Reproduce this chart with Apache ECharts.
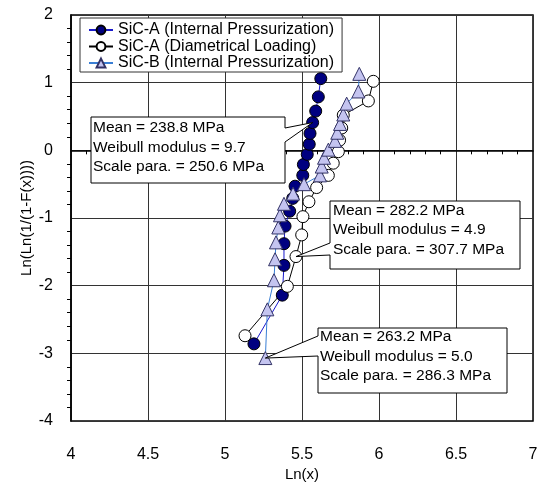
<!DOCTYPE html>
<html>
<head>
<meta charset="utf-8">
<script src="https://cdn.jsdelivr.net/npm/echarts@6/dist/echarts.min.js"></script>
<style>
  html, body { margin: 0; padding: 0; background: #fff; }
</style>
</head>
<body>
<div id="main" style="width: 544px; height: 490px"></div>
<script>
// SiC-A, internal pressurization (17 specimens)
const sicAPressX = [5.188, 5.372, 5.383, 5.383, 5.390, 5.420, 5.440, 5.455, 5.505, 5.509, 5.534, 5.547, 5.552, 5.569, 5.589, 5.606, 5.622];
const sicAPressY = [-2.86, -2.14, -1.70, -1.38, -1.12, -0.90, -0.71, -0.53, -0.37, -0.21, -0.06, 0.09, 0.25, 0.41, 0.58, 0.79, 1.06];

// SiC-A, diametrical loading (15 specimens)
const sicADiamX = [5.130, 5.405, 5.461, 5.498, 5.506, 5.545, 5.595, 5.671, 5.703, 5.736, 5.744, 5.758, 5.768, 5.931, 5.963];
const sicADiamY = [-2.74, -2.01, -1.57, -1.25, -0.98, -0.76, -0.55, -0.37, -0.19, -0.02, 0.15, 0.33, 0.52, 0.73, 1.02];

// SiC-B, internal pressurization (21 specimens)
const sicBPressX = [5.262, 5.275, 5.318, 5.325, 5.331, 5.346, 5.357, 5.383, 5.442, 5.513, 5.617, 5.628, 5.643, 5.671, 5.714, 5.729, 5.747, 5.768, 5.790, 5.866, 5.872];
const sicBPressY = [-3.07, -2.35, -1.92, -1.61, -1.36, -1.14, -0.96, -0.79, -0.64, -0.50, -0.37, -0.24, -0.11, 0.01, 0.14, 0.26, 0.39, 0.53, 0.69, 0.87, 1.13];

const seriesNames = [
  "SiC-A (Internal Pressurization)",
  "SiC-A (Diametrical Loading)",
  "SiC-B (Internal Pressurization)",
];

const statsPress = ["Mean = 238.8 MPa", "Weibull modulus = 9.7", "Scale para. = 250.6 MPa"];
const statsDiam = ["Mean = 282.2 MPa", "Weibull modulus = 4.9", "Scale para. = 307.7 MPa"];
const statsB = ["Mean = 263.2 MPa", "Weibull modulus = 5.0", "Scale para. = 286.3 MPa"];

const FONT = "Liberation Sans, Arial, Helvetica, sans-serif";

function pairs(xs, ys) {
  return xs.map((x, i) => [x, ys[i]]);
}

const chart = echarts.init(document.getElementById("main"));

const axisCommon = {
  axisLine: { show: true, lineStyle: { color: "#000", width: 1.5 } },
  axisTick: { show: false },
  minorTick: { show: true, splitNumber: 5, length: 4, inside: true, lineStyle: { color: "#000" } },
  splitLine: { show: true, lineStyle: { color: "#333", width: 1 } },
  axisLabel: { color: "#000", fontSize: 16, fontFamily: FONT },
  nameTextStyle: { color: "#000", fontSize: 15, fontFamily: FONT },
  nameLocation: "middle",
  nameMoveOverlap: false,
};

const option = {
  animation: false,
  backgroundColor: "#fff",
  grid: {
    left: 71,
    right: 11,
    top: 15,
    bottom: 69,
    show: true,
    borderColor: "#000",
    borderWidth: 1.5,
  },
  xAxis: Object.assign({}, axisCommon, {
    type: "value",
    min: 4,
    max: 7,
    interval: 0.5,
    name: "Ln(x)",
    nameGap: 46,
    axisLabel: Object.assign({}, axisCommon.axisLabel, { margin: 26 }),
  }),
  yAxis: Object.assign({}, axisCommon, {
    type: "value",
    min: -4,
    max: 2,
    interval: 1,
    name: "Ln(Ln(1/(1-F(x))))",
    nameGap: 37,
    axisLabel: Object.assign({}, axisCommon.axisLabel, { margin: 18 }),
  }),
  legend: {
    orient: "vertical",
    left: 80,
    top: 18,
    backgroundColor: "#fff",
    borderColor: "#333",
    borderWidth: 1,
    padding: [4, 8, 1, 8],
    itemWidth: 24,
    itemHeight: 11,
    itemGap: 0.5,
    textStyle: { color: "#000", fontSize: 16, lineHeight: 16, fontFamily: FONT },
    data: seriesNames,
  },
  series: [
    {
      name: seriesNames[0],
      type: "line",
      data: pairs(sicAPressX, sicAPressY),
      symbol: "circle",
      symbolSize: 12,
      itemStyle: { color: "#000080", borderColor: "#000", borderWidth: 1 },
      lineStyle: { color: "#1a1acc", width: 1 },
    },
    {
      name: seriesNames[1],
      type: "line",
      data: pairs(sicADiamX, sicADiamY),
      symbol: "circle",
      symbolSize: 12,
      itemStyle: { color: "#fff", borderColor: "#000", borderWidth: 1 },
      lineStyle: { color: "#000", width: 1 },
    },
    {
      name: seriesNames[2],
      type: "line",
      data: pairs(sicBPressX, sicBPressY),
      symbol: "triangle",
      symbolSize: 13,
      itemStyle: { color: "#c4c4f0", borderColor: "#333366", borderWidth: 1 },
      lineStyle: { color: "#3a7fd5", width: 1 },
    },
  ],
};

chart.setOption(option);

// callout boxes, tip points at a data point
function callout(box, base, tip, lines, textX, textY) {
  const [l, t, r, b] = box;
  let pts;
  if (tip[0] > r) {
    pts = [[l, t], [r, t], [r, base[0]], tip, [r, base[1]], [r, b], [l, b]];
  } else {
    pts = [[l, t], [r, t], [r, b], [l, b], [l, base[1]], tip, [l, base[0]]];
  }
  return [
    {
      type: "polygon",
      z: 100,
      shape: { points: pts },
      style: { fill: "#fff", stroke: "#000", lineWidth: 1 },
    },
    {
      type: "text",
      z: 101,
      x: textX,
      y: textY,
      style: {
        text: lines.join("\n"),
        font: "15.5px " + FONT,
        fill: "#000",
        lineHeight: 19.5,
      },
    },
  ];
}

const tip1 = chart.convertToPixel({ gridIndex: 0 }, [sicAPressX[13], sicAPressY[13]]);
const tip2 = chart.convertToPixel({ gridIndex: 0 }, [sicADiamX[2], sicADiamY[2]]);
const tip3 = chart.convertToPixel({ gridIndex: 0 }, [sicBPressX[0], sicBPressY[0]]);

chart.setOption({
  graphic: [].concat(
    callout([91, 117, 285, 183], [128, 142], tip1, statsPress, 93, 118),
    callout([330, 201, 520, 269], [243, 255], tip2, statsDiam, 333, 200.5),
    callout([318, 328, 507, 393], [336, 356], tip3, statsB, 320, 327)
  ),
});
</script>
</body>
</html>
